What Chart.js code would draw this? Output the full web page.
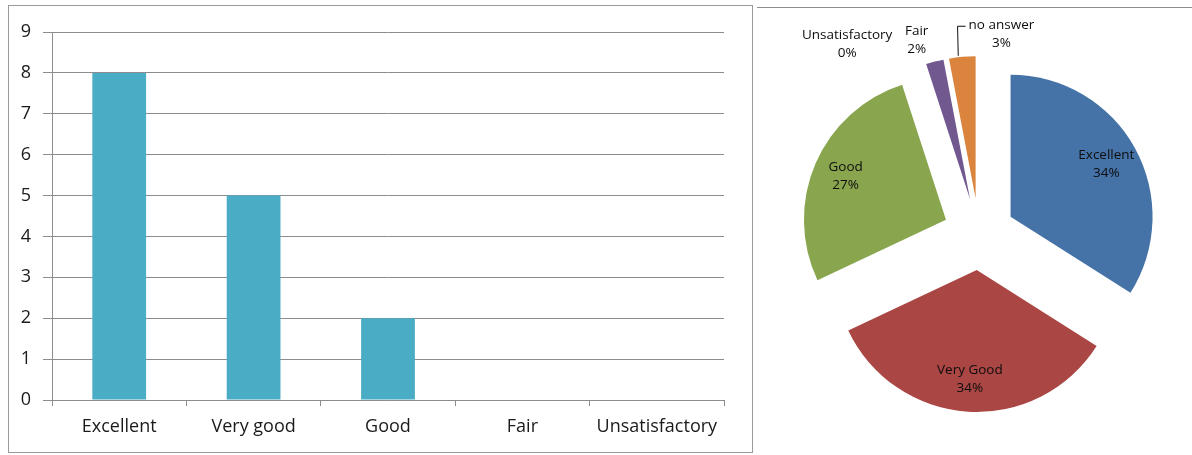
<!DOCTYPE html>
<html>
<head>
<meta charset="utf-8">
<script src="https://cdn.jsdelivr.net/npm/chart.js@4.4.0/dist/chart.umd.min.js"></script>
<style>
    html, body { margin: 0; padding: 0; background: #fff; overflow: hidden; }
    body { width: 1192px; height: 455px; position: relative; }
    #frame { position: absolute; left: 8px; top: 5px; width: 745px; height: 448px; border: 1.5px solid #9a9a9a; box-sizing: border-box; }
    #bar-wrap { position: absolute; left: 0; top: 0; width: 760px; height: 455px; }
    #rule { position: absolute; left: 757px; top: 7px; width: 435px; border-top: 1.5px solid #8c8c8c; }
    #pie-wrap { position: absolute; left: 757px; top: 0; width: 435px; height: 455px; }
</style>
</head>
<body>
<div id="frame"></div>
<div id="bar-wrap"><canvas id="bar-chart"></canvas></div>
<div id="rule"></div>
<div id="pie-wrap"><canvas id="pie-chart"></canvas></div>
<script>
// bar chart data
const barCategories = ["Excellent", "Very good", "Good", "Fair", "Unsatisfactory"];
const barValues = [8, 5, 2, 0, 0];
const yMin = 0;
const yMax = 9;

// pie chart data (percent)
const pieLabels = ["Excellent", "Very Good", "Good", "Unsatisfactory", "Fair", "no answer"];
const pieValues = [34, 34, 27, 0, 2, 3];
const pieColors = ["#4572a7", "#aa4643", "#89a54e", "#4198af", "#71588f", "#db843d"];

const axisFont = { family: "'Open Sans', sans-serif", size: 18 };
const gridColor = "#8c8c8c";

// pulls every slice out from the centre, same distance for all
const explodePlugin = {
    id: "explode",
    beforeDatasetsDraw(chart, args, opts) {
        chart.getDatasetMeta(0).data.forEach((arc) => {
            if (arc._exploded) return;
            const baseDraw = Object.getPrototypeOf(arc).draw;
            arc.draw = function (ctx) {
                const mid = (this.startAngle + this.endAngle) / 2;
                ctx.save();
                ctx.translate(Math.cos(mid) * opts.distance, Math.sin(mid) * opts.distance);
                baseDraw.call(this, ctx);
                ctx.restore();
            };
            arc._exploded = true;
        });
    },
};

// name + percent labels, small slices get them outside
const sliceLabelPlugin = {
    id: "sliceLabels",
    afterDatasetsDraw(chart, args, opts) {
        const { ctx } = chart;
        const meta = chart.getDatasetMeta(0);
        const total = pieValues.reduce((a, b) => a + b, 0);
        ctx.save();
        ctx.font = "13.5px 'Open Sans', sans-serif";
        ctx.fillStyle = "#0d0d0d";
        ctx.strokeStyle = "#0d0d0d";
        ctx.lineWidth = 1;
        ctx.textAlign = "center";
        ctx.textBaseline = "middle";
        meta.data.forEach((arc, i) => {
            const mid = (arc.startAngle + arc.endAngle) / 2;
            const pct = Math.round((pieValues[i] / total) * 100) + "%";
            const out = opts.outside[pieLabels[i]];
            let ang = mid;
            let dist = opts.explode + arc.outerRadius * opts.inside;
            if (out) {
                ang = mid + (out.nudge * Math.PI) / 180;
                dist = out.dist;
            }
            const x = arc.x + Math.cos(ang) * dist;
            const y = arc.y + Math.sin(ang) * dist;
            ctx.fillText(pieLabels[i], x, y - 9);
            ctx.fillText(pct, x, y + 9);
            if (out && out.leader) {
                const r = opts.explode + arc.outerRadius;
                const left = x - ctx.measureText(pieLabels[i]).width / 2;
                ctx.beginPath();
                ctx.moveTo(arc.x + Math.cos(mid) * r - 4, arc.y + Math.sin(mid) * r - 1);
                ctx.lineTo(left - 11, y - 8);
                ctx.lineTo(left - 3, y - 8);
                ctx.stroke();
            }
        });
        ctx.restore();
    },
};

const drawCharts = () => {
    new Chart(document.getElementById("bar-chart").getContext("2d"), {
        type: "bar",
        data: {
            labels: barCategories,
            datasets: [
                {
                    data: barValues,
                    backgroundColor: "#4bacc6",
                    borderWidth: 0,
                    barPercentage: 0.4,
                    categoryPercentage: 1,
                },
            ],
        },
        options: {
            responsive: true,
            maintainAspectRatio: false,
            animation: false,
            layout: {
                padding: { left: 8, top: 32, right: 36, bottom: 10 },
            },
            scales: {
                x: {
                    grid: {
                        drawOnChartArea: false,
                        tickLength: 6,
                        color: gridColor,
                        offset: true,
                    },
                    border: { color: gridColor, width: 1 },
                    ticks: {
                        font: axisFont,
                        color: "#1a1a1a",
                        padding: 10,
                        maxRotation: 0,
                        autoSkip: false,
                    },
                    afterFit: (scale) => {
                        scale.height = 45;
                    },
                },
                y: {
                    min: yMin,
                    max: yMax,
                    ticks: {
                        stepSize: 1,
                        padding: 12,
                        font: axisFont,
                        color: "#1a1a1a",
                    },
                    grid: { color: gridColor, tickLength: 9 },
                    border: { color: gridColor, width: 1 },
                    afterFit: (scale) => {
                        scale.width = 44;
                    },
                },
            },
            plugins: {
                legend: { display: false },
                tooltip: { enabled: false },
            },
        },
    });

    new Chart(document.getElementById("pie-chart").getContext("2d"), {
        type: "pie",
        data: {
            labels: pieLabels,
            datasets: [
                {
                    data: pieValues,
                    backgroundColor: pieColors,
                    borderWidth: 0,
                },
            ],
        },
        options: {
            responsive: true,
            maintainAspectRatio: false,
            animation: false,
            radius: 142,
            layout: {
                padding: { left: 9, top: 13 },
            },
            plugins: {
                legend: { display: false },
                tooltip: { enabled: false },
                explode: { distance: 36 },
                sliceLabels: {
                    explode: 36,
                    inside: 0.77,
                    outside: {
                        "Unsatisfactory": { nudge: -16.8, dist: 231 },
                        "Fair": { nudge: -3.4, dist: 204 },
                        "no answer": { nudge: 11.8, dist: 201, leader: true },
                    },
                },
            },
        },
        plugins: [explodePlugin, sliceLabelPlugin],
    });
};

document.fonts.load("18px 'Open Sans'").then(drawCharts, drawCharts);
</script>
</body>
</html>
